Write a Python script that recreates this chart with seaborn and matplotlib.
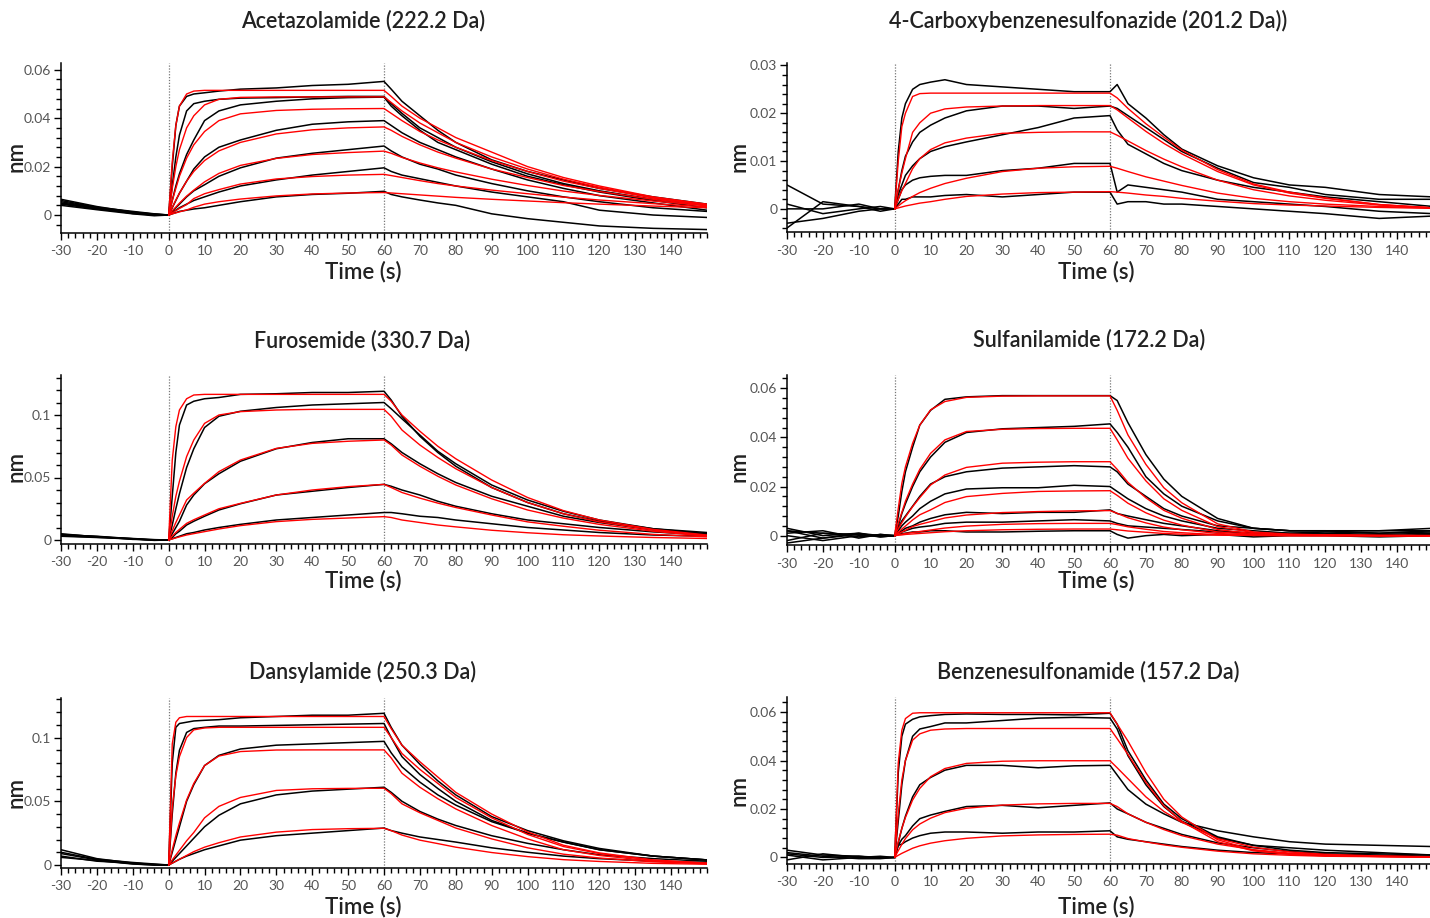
import matplotlib
matplotlib.use("Agg")
import matplotlib.pyplot as plt
import matplotlib.ticker as ticker
import seaborn as sns
import pandas as pd

# time grids (s): fitted curves start at 0, measured traces carry a short baseline
T_FIT = [0, 1, 2, 3, 5, 7, 10, 14, 20, 30, 40, 50, 60,
         62, 65, 70, 75, 80, 90, 100, 110, 120, 135, 150]
T_BASE = [-30, -20, -10, -4]

# ---- Acetazolamide ----
ACE_FIT = [
    [0, .022, .037, .045, .050, .0512, .0515, .0515, .0515, .0515, .0515, .0515, .0515, .049, .045, .040, .036, .032, .026, .020, .0155, .012, .0075, .0045],
    [0, .011, .020, .027, .036, .041, .0455, .0478, .0486, .0488, .0488, .0488, .0488, .0465, .043, .038, .034, .030, .024, .019, .0148, .0115, .0073, .0043],
    [0, .006, .011, .016, .0235, .029, .0345, .039, .0418, .0432, .0437, .0439, .044, .042, .039, .0345, .031, .028, .0225, .018, .014, .011, .007, .0042],
    [0, .0032, .0062, .009, .014, .018, .0225, .0265, .030, .0335, .0352, .036, .0364, .035, .0325, .029, .026, .0235, .019, .0155, .0122, .0097, .0065, .004],
    [0, .0017, .0033, .0049, .0078, .0103, .0137, .0172, .0205, .0234, .025, .0258, .0264, .0255, .0238, .0215, .0195, .0178, .0148, .0122, .0099, .0081, .0058, .0038],
    [0, .0009, .0018, .0027, .0043, .0068, .0088, .0105, .0128, .0149, .0159, .0165, .0168, .0163, .0155, .0142, .013, .012, .0103, .0088, .0074, .0062, .0047, .0034],
    [0, .0005, .0009, .0013, .0021, .0032, .0045, .0055, .0066, .0079, .0087, .0091, .0093, .0091, .0088, .0083, .0078, .0073, .0065, .0058, .0051, .0045, .0037, .003],
]
ACE_BASE = [[.0055, .003, .0012, .0003], [.0045, .0025, .0008, .0], [.006, .0032, .0015, .0005],
            [.005, .0028, .001, .0002], [.004, .0022, .0005, -.0003], [.0065, .0035, .0012, .0004],
            [.0048, .003, .0006, .0001]]
ACE_DATA = [
    [0, .02, .037, .045, .049, .050, .0505, .0512, .052, .0525, .0535, .054, .0552, .052, .047, .041, .035, .030, .0228, .018, .0145, .011, .0075, .0045],
    [0, .012, .024, .033, .043, .046, .047, .0478, .0483, .0485, .0488, .049, .049, .046, .042, .036, .032, .028, .022, .017, .013, .010, .0065, .004],
    [0, .006, .012, .017, .025, .031, .039, .043, .0455, .047, .048, .0485, .0487, .045, .041, .035, .030, .027, .021, .016, .0125, .0095, .006, .003],
    [0, .003, .006, .009, .014, .019, .024, .028, .031, .035, .0375, .0385, .039, .037, .034, .030, .027, .024, .019, .0145, .011, .008, .005, .002],
    [0, .0015, .003, .0045, .0075, .010, .0125, .016, .0195, .0235, .0255, .027, .0285, .0265, .024, .021, .019, .0165, .013, .010, .0075, .0055, .003, .0015],
    [0, .001, .002, .003, .0045, .006, .0075, .0095, .012, .0145, .0165, .018, .0195, .018, .0165, .015, .0135, .012, .0095, .0075, .0055, .002, .0, -.001],
    [0, .0005, .001, .0015, .002, .0025, .003, .004, .0055, .0075, .0085, .009, .0098, .0085, .0075, .0062, .005, .004, .0005, -.0015, -.003, -.0045, -.0055, -.006],
]

# ---- 4-Carboxybenzenesulfonazide ----
CAR_FIT = [
    [0, .010, .0172, .020, .0235, .0241, .0242, .0242, .0242, .0242, .0242, .0242, .0242, .0232, .021, .0178, .015, .0123, .0082, .0052, .0035, .0023, .0009, .0002],
    [0, .004, .0075, .0105, .016, .018, .020, .0209, .0213, .0215, .0216, .0216, .0216, .0207, .019, .0162, .0137, .0115, .0078, .005, .0033, .0022, .0009, .0002],
    [0, .002, .0038, .0053, .0084, .0105, .0124, .0138, .0148, .0158, .016, .0161, .0161, .0154, .0142, .0122, .0104, .0088, .006, .004, .0027, .0018, .0008, .0002],
    [0, .0006, .0012, .0017, .0026, .0034, .0043, .0053, .0064, .0078, .0085, .0088, .0089, .0085, .0078, .0067, .0058, .0049, .0033, .0022, .0015, .001, .0005, .0002],
    [0, .0002, .0004, .0006, .0009, .0012, .0015, .002, .0026, .0031, .0034, .0035, .0036, .0035, .0033, .0029, .0026, .0022, .0016, .0011, .0008, .0006, .0003, .0001],
]
CAR_BASE = [[.005, .001, .0005, .0], [.001, -.001, .0, .0005], [-.003, -.002, -.0005, .0],
            [-.004, .0015, .0005, -.0005], [.0, .0, .001, .0]]
CAR_DATA = [
    [0, .012, .019, .022, .025, .026, .0265, .027, .026, .0255, .025, .0245, .0245, .026, .022, .019, .0155, .0125, .009, .0065, .005, .0045, .003, .0025],
    [0, .004, .008, .011, .014, .016, .0175, .019, .0205, .0215, .0215, .021, .0215, .021, .0195, .017, .0145, .012, .0085, .0055, .0045, .003, .002, .002],
    [0, .003, .005, .007, .009, .0105, .012, .013, .014, .0155, .017, .019, .0195, .0165, .0135, .0115, .0095, .008, .006, .0045, .0035, .0025, .0015, .0005],
    [0, .002, .004, .005, .006, .0065, .0068, .007, .007, .008, .0085, .0095, .0095, .0035, .005, .0045, .004, .0035, .002, .0015, .001, .0005, -.0005, -.001],
    [0, .001, .002, .002, .0025, .0025, .0025, .0028, .003, .0025, .003, .0035, .0035, .001, .0015, .0015, .001, .001, .0005, .0, -.0005, -.001, -.002, -.0015],
]

# ---- Furosemide ----
FUR_FIT = [
    [0, .064, .0907, .104, .113, .116, .1165, .1165, .1165, .1165, .1165, .1165, .1165, .111, .1, .087, .075, .065, .048, .034, .0235, .016, .0085, .004],
    [0, .019, .035, .047, .0667, .080, .0933, .100, .1027, .104, .1045, .1045, .1045, .099, .088, .076, .066, .057, .042, .030, .021, .0145, .008, .0035],
    [0, .0075, .014, .020, .032, .0375, .0453, .0547, .064, .0733, .0773, .079, .080, .076, .068, .059, .051, .044, .033, .024, .0175, .0125, .007, .003],
    [0, .003, .006, .0085, .0133, .0162, .020, .025, .0293, .036, .040, .0427, .0445, .042, .038, .0335, .0295, .026, .020, .0145, .011, .0078, .0045, .0025],
    [0, .0009, .0017, .0025, .004, .0051, .0067, .0088, .0115, .0147, .0165, .0176, .0187, .018, .016, .014, .012, .0105, .0078, .0058, .0042, .0032, .002, .0012],
]
FUR_BASE = [[.004, .003, .001, .0], [.005, .0025, .0012, .0003], [.003, .002, .0008, -.0003],
            [.0045, .0028, .0005, .0002], [.0035, .0022, .001, -.0002]]
FUR_DATA = [
    [0, .035, .07, .092, .108, .111, .113, .114, .1165, .117, .118, .118, .119, .112, .099, .083, .07, .059, .042, .030, .021, .015, .009, .006],
    [0, .012, .025, .037, .058, .073, .09, .099, .103, .106, .108, .109, .11, .105, .097, .084, .071, .061, .044, .032, .023, .016, .009, .005],
    [0, .005, .01, .015, .028, .036, .045, .053, .063, .073, .078, .081, .081, .077, .07, .061, .053, .046, .035, .027, .019, .014, .008, .005],
    [0, .002, .005, .007, .012, .015, .019, .024, .029, .036, .039, .042, .0445, .043, .04, .036, .031, .027, .021, .016, .013, .01, .0065, .004],
    [0, .001, .002, .003, .005, .006, .008, .01, .0125, .016, .018, .020, .022, .022, .021, .019, .018, .016, .013, .01, .008, .006, .004, .003],
]

# ---- Sulfanilamide ----
SUL_FIT = [
    [0, .011, .0213, .028, .0376, .045, .0512, .0546, .0563, .0568, .0569, .0569, .0569, .051, .041, .029, .0195, .0134, .0048, .0015, .0006, .0003, .0001, 0],
    [0, .005, .0095, .014, .021, .027, .0335, .039, .0424, .0433, .0436, .0437, .0437, .039, .0315, .0223, .015, .0103, .0037, .0012, .0005, .0002, .0001, 0],
    [0, .0028, .0053, .0076, .0118, .0155, .0206, .0247, .0278, .0295, .0299, .0301, .0301, .027, .0217, .0154, .0103, .0071, .0025, .0008, .0003, .0002, 0, 0],
    [0, .0014, .0027, .0039, .0064, .0085, .0105, .0135, .0159, .0172, .018, .0182, .0183, .0164, .0132, .0093, .0063, .0043, .0015, .0005, .0002, .0001, 0, 0],
    [0, .0008, .0015, .0022, .0037, .0046, .0057, .0072, .0084, .0094, .0098, .0101, .0102, .0091, .0073, .0052, .0035, .0024, .0009, .0003, .0001, 0, 0, 0],
    [0, .0003, .0006, .0009, .0013, .0017, .0023, .0031, .0039, .0046, .0049, .005, .005, .0045, .0036, .0026, .0017, .0012, .0004, .0001, 0, 0, 0, 0],
    [0, .0002, .0003, .0005, .0007, .0009, .0012, .0016, .002, .0024, .0026, .0027, .0027, .0024, .0019, .0014, .0009, .0006, .0002, .0001, 0, 0, 0, 0],
]
SUL_BASE = [[.002, -.001, .001, .0], [-.002, .001, -.0005, .0005], [.003, .0, .001, -.0005],
            [-.003, -.001, .0005, .0], [.001, .002, -.001, .0005], [.0, -.002, .0, .0],
            [.002, .001, .0005, -.0005]]
SUL_DATA = [
    [0, .008, .018, .026, .036, .045, .051, .0555, .0565, .057, .057, .057, .057, .055, .046, .033, .023, .016, .007, .003, .002, .002, .002, .002],
    [0, .004, .009, .013, .02, .026, .032, .038, .042, .0435, .044, .0445, .0455, .042, .036, .024, .017, .012, .006, .003, .002, .002, .002, .003],
    [0, .003, .006, .008, .012, .016, .021, .024, .026, .0275, .028, .0285, .028, .026, .021, .016, .011, .008, .004, .003, .002, .002, .001, .002],
    [0, .002, .004, .0055, .008, .011, .014, .017, .019, .0195, .0195, .0205, .02, .018, .015, .011, .008, .006, .003, .002, .001, .0015, .001, .0015],
    [0, .001, .002, .003, .004, .0055, .007, .0085, .0095, .009, .0095, .0095, .0105, .009, .008, .0065, .005, .004, .002, .001, .001, .001, .0005, .001],
    [0, .001, .0015, .002, .003, .0035, .004, .005, .0055, .0055, .006, .0065, .006, .005, .004, .0035, .003, .0025, .0015, .001, .0005, .0005, .0, .0005],
    [0, .0005, .0008, .001, .0015, .0015, .002, .002, .0015, .0015, .0018, .002, .002, .0005, -.001, .0, .0005, .0, .0005, -.0005, .0, .0, -.0005, .0],
]

# ---- Dansylamide ----
DAN_FIT = [
    [0, .095, .112, .1155, .1165, .1165, .1165, .1165, .1165, .1165, .1165, .1165, .1165, .107, .094, .081, .069, .057, .04, .026, .0155, .0095, .004, .0015],
    [0, .045, .07, .085, .1, .106, .1075, .108, .108, .108, .108, .108, .108, .1, .0875, .075, .064, .053, .037, .024, .0145, .009, .0037, .0014],
    [0, .012, .023, .033, .051, .064, .078, .0855, .089, .0902, .0903, .0903, .0903, .084, .072, .061, .052, .044, .031, .0205, .012, .0075, .0031, .0012],
    [0, .004, .0078, .0115, .019, .0255, .037, .046, .053, .0585, .0598, .0601, .0602, .056, .048, .041, .035, .029, .0205, .0135, .0085, .0055, .0025, .001],
    [0, .0015, .003, .0045, .0075, .0105, .014, .0175, .022, .0258, .0278, .0285, .0288, .027, .0235, .0195, .0168, .014, .0098, .0066, .0042, .0028, .0013, .0006],
]
DAN_BASE = [[.012, .005, .0015, .0005], [.009, .004, .001, .0], [.007, .003, .0015, .0003],
            [.01, .0045, .002, .0008], [.006, .0035, .0008, .0]]
DAN_DATA = [
    [0, .08, .108, .111, .112, .113, .1135, .114, .1155, .1165, .1175, .1175, .119, .108, .094, .079, .066, .055, .038, .027, .019, .013, .007, .004],
    [0, .04, .072, .09, .104, .107, .108, .109, .109, .1095, .11, .1105, .111, .1, .085, .071, .06, .05, .035, .025, .018, .012, .007, .004],
    [0, .01, .02, .03, .05, .063, .078, .086, .091, .094, .095, .096, .097, .088, .077, .065, .055, .047, .034, .025, .018, .012, .007, .004],
    [0, .003, .006, .009, .015, .021, .03, .039, .048, .055, .058, .0595, .061, .057, .05, .042, .036, .031, .023, .017, .012, .008, .005, .003],
    [0, .0015, .003, .0045, .007, .009, .012, .015, .0195, .023, .025, .027, .029, .027, .025, .022, .02, .018, .0135, .01, .007, .005, .003, .002],
]

# ---- Benzenesulfonamide ----
BEN_FIT = [
    [0, .039, .0525, .0573, .0595, .0597, .0597, .0597, .0597, .0597, .0597, .0597, .0597, .055, .048, .035, .024, .0167, .0073, .003, .0015, .0008, .0004, .0002],
    [0, .018, .032, .040, .0484, .051, .0525, .053, .0532, .0532, .0532, .0532, .0532, .049, .0425, .031, .0213, .0149, .0065, .0027, .0013, .0007, .0004, .0002],
    [0, .0065, .012, .0165, .0237, .0285, .0333, .0367, .0388, .0397, .0399, .0399, .0399, .037, .0325, .025, .019, .0145, .0078, .0042, .0023, .0013, .0006, .0003],
    [0, .0028, .0054, .0078, .0114, .0138, .0162, .0185, .0203, .0216, .0221, .0223, .0223, .021, .018, .0145, .0115, .009, .0055, .0032, .0018, .001, .0005, .0002],
    [0, .0009, .0017, .0024, .0038, .0048, .0059, .0069, .0079, .0089, .0093, .0095, .0096, .0092, .0078, .0064, .0052, .0042, .0026, .0015, .0009, .0005, .0003, .0001],
]
BEN_BASE = [[.003, .001, .0005, .0], [.001, -.001, .0, .0005], [.002, .0005, -.0005, -.0005],
            [-.001, .0015, .0, .0], [.0015, .0, .0005, -.0003]]
BEN_DATA = [
    [0, .035, .05, .055, .057, .058, .0585, .059, .0592, .059, .059, .0588, .0595, .055, .044, .032, .022, .016, .0085, .005, .004, .003, .002, .001],
    [0, .015, .03, .04, .05, .053, .054, .0555, .0555, .0565, .0575, .0578, .0575, .053, .042, .03, .021, .015, .008, .005, .003, .002, .0015, .001],
    [0, .006, .012, .017, .025, .03, .033, .036, .038, .038, .037, .0378, .038, .034, .028, .022, .018, .0145, .011, .0085, .0065, .0055, .005, .0045],
    [0, .005, .0075, .009, .013, .016, .0175, .019, .021, .0215, .0205, .0215, .0225, .02, .018, .0145, .012, .0095, .006, .004, .0025, .0015, .001, .0005],
    [0, .005, .0055, .0065, .008, .009, .01, .0105, .0105, .01, .0105, .0105, .011, .0085, .0075, .0065, .0055, .0045, .003, .002, .0015, .001, .0005, .0003],
]

TITLES = ['Acetazolamide (222.2 Da)', '4-Carboxybenzenesulfonazide (201.2 Da))',
          'Furosemide (330.7 Da)', 'Sulfanilamide (172.2 Da)',
          'Dansylamide (250.3 Da)', 'Benzenesulfonamide (157.2 Da)']

W, H = 1430, 918
# axes box in pixels (left, top, right, bottom), y limits, y major step, title / xlabel / ylabel centres
PANELS = [
    dict(fit=ACE_FIT, base=ACE_BASE, data=ACE_DATA, box=(61, 63, 707, 232.7), ylim=(-0.0073, 0.0628), step=0.02,
         title=(363, 21), xlab=(363, 272), ylab=(16, 157)),
    dict(fit=CAR_FIT, base=CAR_BASE, data=CAR_DATA, box=(787, 63, 1433, 232.3), ylim=(-0.0049, 0.0305), step=0.01,
         title=(1088, 21), xlab=(1096, 272), ylab=(739, 157)),
    dict(fit=FUR_FIT, base=FUR_BASE, data=FUR_DATA, box=(61, 375, 707, 544), ylim=(-0.0032, 0.132), step=0.05,
         title=(362, 341), xlab=(363, 581), ylab=(16, 466)),
    dict(fit=SUL_FIT, base=SUL_BASE, data=SUL_DATA, box=(787, 375, 1433, 545), ylim=(-0.0038, 0.0654), step=0.02,
         title=(1089, 340), xlab=(1096, 581), ylab=(739, 466)),
    dict(fit=DAN_FIT, base=DAN_BASE, data=DAN_DATA, box=(61, 698, 707, 867.7), ylim=(-0.0021, 0.131), step=0.05,
         title=(363, 672), xlab=(363, 907), ylab=(16, 792)),
    dict(fit=BEN_FIT, base=BEN_BASE, data=BEN_DATA, box=(787, 697, 1433, 864), ylim=(-0.0027, 0.0662), step=0.02,
         title=(1088, 672), xlab=(1096, 907), ylab=(739, 791)),
]


def long_frame(times, curves):
    rows = []
    for i, ys in enumerate(curves):
        for t, y in zip(times, ys):
            rows.append((i, t, y))
    return pd.DataFrame(rows, columns=['curve', 't', 'nm'])


sns.set_style('ticks')
plt.rcParams['font.family'] = ['Lato', 'DejaVu Sans']
plt.rcParams['axes.unicode_minus'] = False

fig = plt.figure(figsize=(W / 100, H / 100), dpi=100)

for p, title in zip(PANELS, TITLES):
    l, t, r, b = p['box']
    ax = fig.add_axes([l / W, 1 - b / H, (r - l) / W, (b - t) / H])

    traces = [base + data for base, data in zip(p['base'], p['data'])]
    df_data = long_frame(T_BASE + T_FIT, traces)
    df_fit = long_frame(T_FIT, p['fit'])

    sns.lineplot(data=df_data, x='t', y='nm', units='curve', estimator=None, sort=False,
                 color='black', lw=1.1, ax=ax, legend=False, zorder=2)
    sns.lineplot(data=df_fit, x='t', y='nm', units='curve', estimator=None, sort=False,
                 color='#ff0000', lw=1.0, ax=ax, legend=False, zorder=3)

    for xv in (0, 60):
        ax.axvline(xv, color='#777777', ls=(0, (1, 1.3)), lw=0.9, zorder=1)

    ax.set_xlim(-30, 150)
    ax.set_ylim(*p['ylim'])
    ax.set_xlabel('')
    ax.set_ylabel('')
    ax.xaxis.set_major_locator(ticker.FixedLocator(list(range(-30, 150, 10))))
    ax.xaxis.set_minor_locator(ticker.MultipleLocator(2))
    ax.yaxis.set_major_locator(ticker.MultipleLocator(p['step']))
    ax.yaxis.set_minor_locator(ticker.MultipleLocator(p['step'] / 5))
    ax.yaxis.set_major_formatter(ticker.FuncFormatter(lambda v, pos: '%g' % round(v, 4)))
    ax.tick_params(which='major', direction='out', length=5, width=1, color='black',
                   labelsize=10, labelcolor='#555555', pad=2)
    ax.tick_params(axis='x', which='major', pad=4)
    ax.tick_params(which='minor', direction='out', length=3.5, width=1, color='black')
    for side in ('top', 'right'):
        ax.spines[side].set_visible(False)
    for side in ('left', 'bottom'):
        ax.spines[side].set_color('black')
        ax.spines[side].set_linewidth(1.1)

    tx, ty = p['title']
    fig.text(tx / W, 1 - ty / H, title, ha='center', va='center', fontsize=15.5,
             fontweight='semibold', color='#222222')
    lx, ly = p['xlab']
    fig.text(lx / W, 1 - ly / H, 'Time (s)', ha='center', va='center', fontsize=16,
             fontweight='semibold', color='#222222')
    nx, ny = p['ylab']
    fig.text(nx / W, 1 - ny / H, 'nm', ha='center', va='center', fontsize=16,
             fontweight='semibold', color='#222222', rotation=90)

fig.savefig('out.png', dpi=100)
